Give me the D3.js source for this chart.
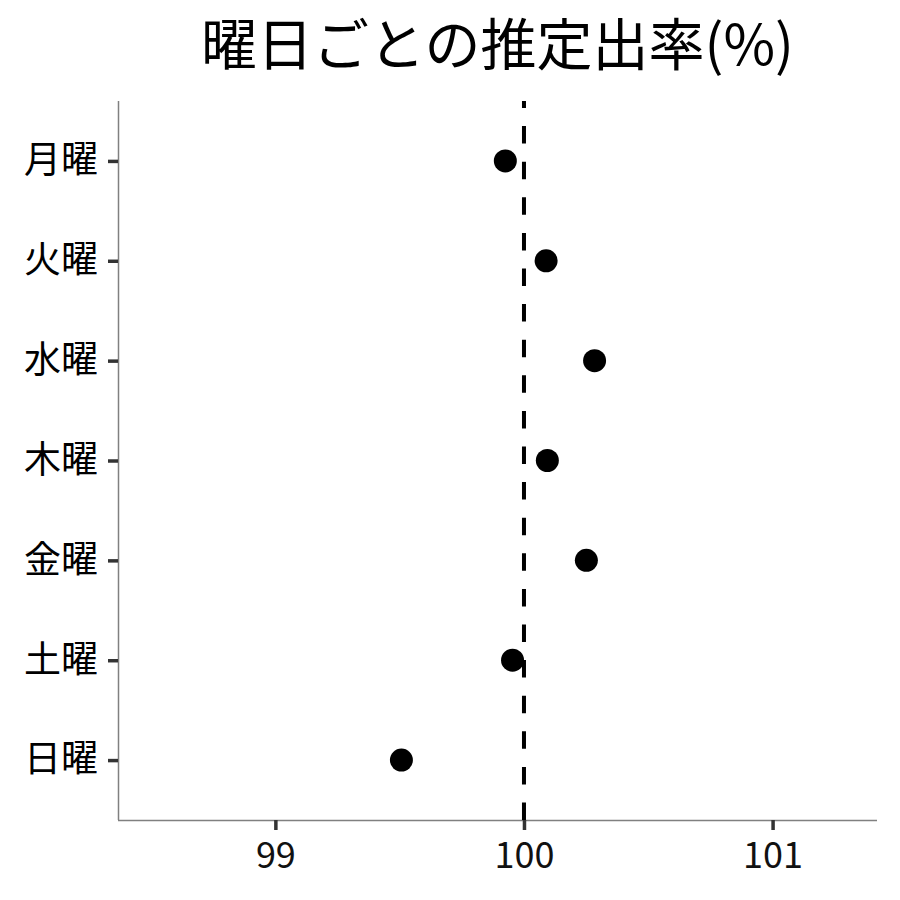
<!DOCTYPE html>
<html>
<head>
<meta charset="utf-8">
<script src="https://cdn.jsdelivr.net/npm/d3@7"></script>
<style>
  body { margin: 0; background: #fff; }
  text { font-family: "Noto Sans CJK JP", "Noto Sans", sans-serif; }
</style>
</head>
<body>
<div id="chart"></div>
<script>
const days = ['月曜', '火曜', '水曜', '木曜', '金曜', '土曜', '日曜']
const rates = [99.925, 100.089, 100.284, 100.094, 100.251, 99.954, 99.507]
const xTicks = [99, 100, 101]
const refLine = 100

const width = 900
const height = 900
const pLeft = 118, pRight = 877, pTop = 101, pBottom = 820

const svg = d3.select('#chart')
  .append('svg')
  .attr('width', width)
  .attr('height', height)

const x = d3.scaleLinear().domain([98.367, 101.42]).range([pLeft, pRight])
const y = d3.scalePoint().domain(days).range([pTop, pBottom]).padding(0.6)

// title
svg.append('text')
  .attr('x', (pLeft + pRight) / 2)
  .attr('y', 65)
  .attr('text-anchor', 'middle')
  .attr('font-size', 56)
  .attr('fill', '#000')
  .text('曜日ごとの推定出率(%)')

// x axis
const xAxis = svg.append('g')
  .attr('transform', 'translate(0,' + pBottom + ')')
  .call(d3.axisBottom(x).tickValues(xTicks).tickFormat(d3.format('d'))
    .tickSize(10).tickPadding(12).tickSizeOuter(0))
xAxis.select('.domain').attr('stroke', '#808080').attr('stroke-width', 1.5)
  .attr('d', 'M' + pLeft + ',0.5H' + pRight)
xAxis.selectAll('.tick line').attr('stroke', '#333').attr('stroke-width', 3.5)
xAxis.selectAll('.tick text')
  .attr('font-size', 36)
  .attr('fill', '#111')
  .attr('font-family', '"Noto Sans CJK JP", sans-serif')

// y axis
const yAxis = svg.append('g')
  .attr('transform', 'translate(' + pLeft + ',0)')
  .call(d3.axisLeft(y).tickSize(10).tickPadding(10).tickSizeOuter(0))
yAxis.select('.domain').attr('stroke', '#808080').attr('stroke-width', 1.5)
  .attr('d', 'M0.5,' + pTop + 'V' + pBottom)
yAxis.selectAll('.tick line').attr('stroke', '#333').attr('stroke-width', 3.5)
yAxis.selectAll('.tick text')
  .attr('font-size', 37)
  .attr('fill', '#000')
  .attr('font-family', '"Noto Sans CJK JP", sans-serif')

// reference line, drawn from the bottom up
svg.append('line')
  .attr('x1', x(refLine)).attr('x2', x(refLine))
  .attr('y1', pBottom).attr('y2', pTop)
  .attr('stroke', '#000')
  .attr('stroke-width', 4)
  .attr('stroke-dasharray', '17.5,18.1')

// points
svg.selectAll('.pt')
  .data(days)
  .enter().append('circle')
  .attr('class', 'pt')
  .attr('cx', function (d, i) { return x(rates[i]) })
  .attr('cy', function (d) { return y(d) })
  .attr('r', 11.5)
  .attr('fill', '#000')
</script>
</body>
</html>
